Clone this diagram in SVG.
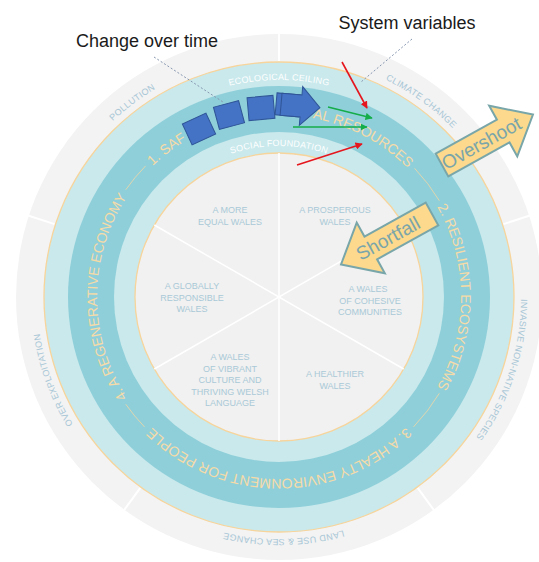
<svg xmlns="http://www.w3.org/2000/svg" width="539" height="562" viewBox="0 0 539 562">
<defs>
<style>
 .f{font-family:"Liberation Sans",Arial,sans-serif}
 .outer{font-size:9px;fill:#a7c6d6;letter-spacing:0.3px}
 .band{font-size:9px;fill:#ffffff;letter-spacing:0.2px}
 .aim{font-size:14px;fill:#f6dba8}
 .sec{font-size:9px;fill:#a9c9d7;text-anchor:middle}
 .ann{font-size:18px;fill:#1a1a1a}
 .box{fill:#4472c4;stroke:#2f5597;stroke-width:1}
 .yarrow{fill:#fcd98c;stroke:#79a6a9;stroke-width:2}
 .ytext{font-size:19px;fill:#7aa5aa;text-anchor:middle}
 .lead{stroke:#8797b0;stroke-width:1;stroke-dasharray:2 2;fill:none}
 .red{stroke:#e5161d;stroke-width:1.6;fill:none}
 .green{stroke:#14ad4a;stroke-width:1.6;fill:none}
 .spoke{stroke:#ffffff;stroke-width:1.5}
 .div{stroke:#ffffff;stroke-width:2}
 .conn{stroke:#f3d7a3;stroke-width:0.8;fill:none}
</style>
<path id="c242" d="M37,297 A242,242 0 1 1 521,297 A242,242 0 1 1 37,297"/>
<path id="c217" d="M279,514 A217,217 0 1 1 279,80 A217,217 0 1 1 279,514"/>
<path id="c151" d="M279,448 A151,151 0 1 1 279,146 A151,151 0 1 1 279,448"/>
<path id="c182a" d="M461,297 A182,182 0 1 1 97,297 A182,182 0 1 1 461,297"/>
<path id="c182b" d="M97,297 A182,182 0 1 1 461,297 A182,182 0 1 1 97,297"/>
<marker id="mr" viewBox="0 0 10 10" refX="9" refY="5" markerWidth="4.5" markerHeight="4.5" orient="auto"><path d="M0,0 L10,5 L0,10 z" fill="#e5161d"/></marker>
<marker id="mg" viewBox="0 0 10 10" refX="9" refY="5" markerWidth="4.5" markerHeight="4.5" orient="auto"><path d="M0,0 L10,5 L0,10 z" fill="#14ad4a"/></marker>
</defs>
<rect width="539" height="562" fill="#ffffff"/>

<g id="outer-ring">
 <circle cx="279" cy="297" r="263" fill="#f3f3f3"/>
 <line class="div" x1="279" y1="61" x2="279" y2="30"/>
 <line class="div" x1="503.4" y1="224.1" x2="533" y2="214.5"/>
 <line class="div" x1="417.7" y1="487.9" x2="436" y2="513"/>
 <line class="div" x1="140.3" y1="487.9" x2="122" y2="513"/>
 <line class="div" x1="54.5" y1="224.1" x2="25" y2="214.5"/>
 <text class="f outer"><textPath href="#c242" startOffset="14.72%" text-anchor="middle">POLLUTION</textPath></text>
 <text class="f outer"><textPath href="#c242" startOffset="35%" text-anchor="middle">CLIMATE CHANGE</textPath></text>
 <text class="f outer"><textPath href="#c242" startOffset="55%" text-anchor="middle">INVASIVE NON-NATIVE SPECIES</textPath></text>
 <text class="f outer"><textPath href="#c242" startOffset="74.7%" text-anchor="middle">LAND USE &amp; SEA CHANGE</textPath></text>
 <text class="f outer"><textPath href="#c242" startOffset="94.4%" text-anchor="middle">OVER EXPLOITATION</textPath></text>
</g>

<g id="bands">
 <circle cx="279" cy="297" r="235" fill="#c9e9ec" stroke="#f7d49b" stroke-width="1.3"/>
 <circle cx="279" cy="297" r="211" fill="#8fcfd9"/>
 <circle cx="279" cy="297" r="165" fill="#c9e9ec"/>
 <text class="f band"><textPath href="#c217" startOffset="50%" text-anchor="middle">ECOLOGICAL CEILING</textPath></text>
 <text class="f band"><textPath href="#c151" startOffset="50%" text-anchor="middle">SOCIAL FOUNDATION</textPath></text>
 <path class="conn" d="M125.8,189.7 A187,187 0 0 1 145.6,165.9"/>
 <path class="conn" d="M414.6,168.3 A187,187 0 0 1 439.3,200.7"/>
 <path class="conn" d="M439.3,393.3 A187,187 0 0 1 413.5,426.9"/>
 <path class="conn" d="M144.5,426.9 A187,187 0 0 1 125.8,404.3"/>
 <text class="f aim"><textPath href="#c182a" startOffset="62.78%" text-anchor="start">1. SAF</textPath></text>
 <text class="f aim"><textPath href="#c182a" startOffset="87.5%" text-anchor="end">AL RESOURCES</textPath></text>
 <text class="f aim"><textPath href="#c182b" startOffset="50%" text-anchor="middle">2. RESILIENT ECOSYSTEMS</textPath></text>
 <text class="f aim"><textPath href="#c182a" startOffset="25%" text-anchor="middle">3. A HEALTY ENVIRONMENT FOR PEOPLE</textPath></text>
 <text class="f aim"><textPath href="#c182a" startOffset="50%" text-anchor="middle">4. A REGENERATIVE ECONOMY</textPath></text>
</g>

<g id="inner-disc">
 <circle cx="279" cy="297" r="144" fill="#f1f1f1" stroke="#f7d49b" stroke-width="1.3"/>
 <line class="spoke" x1="279" y1="153" x2="279" y2="441"/>
 <line class="spoke" x1="403.7" y1="225" x2="154.3" y2="369"/>
 <line class="spoke" x1="403.7" y1="369" x2="154.3" y2="225"/>
</g>
<g id="sector-equal"><text class="f sec" x="230" y="213">A MORE<tspan x="230" y="224.5">EQUAL WALES</tspan></text></g>
<g id="sector-prosperous"><text class="f sec" x="335" y="213">A PROSPEROUS<tspan x="335" y="224.5">WALES</tspan></text></g>
<g id="sector-global"><text class="f sec" x="192" y="289">A GLOBALLY<tspan x="192" y="300.5">RESPONSIBLE</tspan><tspan x="192" y="312">WALES</tspan></text></g>
<g id="sector-cohesive"><text class="f sec" x="368" y="292">A WALES<tspan x="370" y="303.5">OF COHESIVE</tspan><tspan x="370" y="315">COMMUNITIES</tspan></text></g>
<g id="sector-healthier"><text class="f sec" x="335" y="377">A HEALTHIER<tspan x="335" y="388.5">WALES</tspan></text></g>
<g id="sector-culture"><text class="f sec" x="230" y="360">A WALES<tspan x="230" y="371.5">OF VIBRANT</tspan><tspan x="230" y="383">CULTURE AND</tspan><tspan x="230" y="394.5">THRIVING WELSH</tspan><tspan x="230" y="406">LANGUAGE</tspan></text></g>

<g id="change-over-time">
 <rect class="box" x="-13" y="-11.5" width="26" height="23" transform="translate(199,129) rotate(-25)"/>
 <rect class="box" x="-13" y="-11.5" width="26" height="23" transform="translate(229,115) rotate(-15)"/>
 <rect class="box" x="-13" y="-11.5" width="26" height="23" transform="translate(261,108) rotate(-5)"/>
 <g transform="translate(301,106) rotate(5)">
  <rect class="box" x="-25" y="-11" width="24" height="22"/>
  <polygon class="box" points="-20,-11 0,-11 0,-19.5 19,0 0,19.5 0,11 -20,11"/>
 </g>
</g>

<g id="overshoot">
 <polygon class="yarrow" points="0,-13 70,-13 70,-29 104,0 70,29 70,13 0,13" transform="translate(442,165) rotate(-29)"/>
 <text class="f ytext" transform="translate(481.4,143.2) rotate(-29)" y="6.5">Overshoot</text>
</g>
<g id="shortfall">
 <polygon class="yarrow" points="0,-13 70,-13 70,-29 104,0 70,29 70,13 0,13" transform="translate(432,214) rotate(151)"/>
 <text class="f ytext" transform="translate(388,238.5) rotate(-29)" y="6.5">Shortfall</text>
</g>

<g id="labels">
 <text class="f ann" x="147" y="46.5" text-anchor="middle">Change over time</text>
 <text class="f ann" x="407" y="28.5" text-anchor="middle">System variables</text>
</g>

<g id="connectors">
 <line class="lead" x1="154" y1="57" x2="223" y2="102"/>
 <line class="lead" x1="412" y1="39" x2="361" y2="82"/>
 <line class="red" x1="342" y1="62" x2="367" y2="108" marker-end="url(#mr)"/>
 <line class="green" x1="328" y1="107" x2="372" y2="118" marker-end="url(#mg)"/>
 <line class="green" x1="293" y1="127" x2="367" y2="127" marker-end="url(#mg)"/>
 <line class="red" x1="297" y1="165" x2="362" y2="144" marker-end="url(#mr)"/>
</g>
</svg>
